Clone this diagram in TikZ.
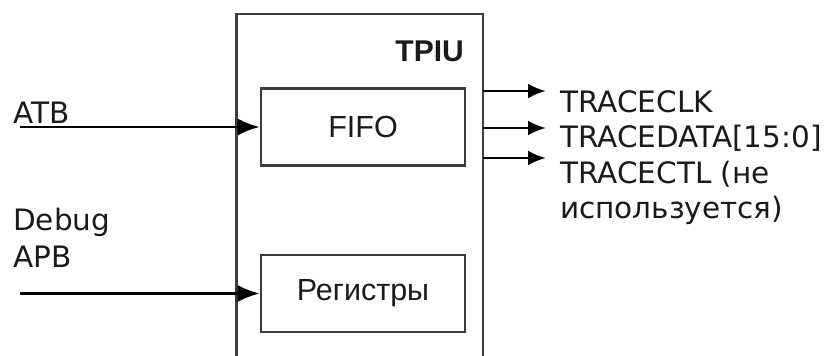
\documentclass[tikz,border=0pt]{standalone}
\usepackage{fontspec}
\setmainfont{DejaVu Sans}
\newfontfamily\boxfont{Liberation Sans}
\usetikzlibrary{arrows.meta}
\definecolor{ink}{HTML}{1A1A1A}
\definecolor{rim}{HTML}{3C3C3C}

\begin{document}
\begin{tikzpicture}[x=1pt,y=-1pt,frame/.style={draw=rim,line width=2.6pt},block/.style={draw=rim,line width=2.6pt,minimum width=204pt,minimum height=77pt,font=\boxfont\fontsize{30.5}{36}\selectfont,text=ink},label/.style={inner sep=0pt,align=left,text=ink,font=\fontsize{29.5}{36.5}\selectfont},inarrow/.style={-{Latex[length=22pt,width=17pt]},line width=2.6pt,draw=black},outarrow/.style={-{Latex[length=18pt,width=15pt]},line width=2.8pt,draw=black}]
 \useasboundingbox (0,0) rectangle (833,356);
 \draw[frame] (236.5,358) |- (483,14) -- (483,358);
 \node[anchor=east,inner sep=0pt,font=\boxfont\bfseries\fontsize{30}{36}\selectfont,text=ink] (tpiu) at (464,51.5) {TPIU};
 \node[block] (fifo) at (363,127) {FIFO};
 \node[block] (regs) at (363,293.5) {Регистры};
 % inputs
 \node[label,anchor=north west] (atblabel) at (13,102) {ATB};
 \node[label,anchor=north west] (apblabel) at (13,208) {Debug\\APB};
 \coordinate (atb) at (20,127);
 \coordinate (apb) at (20,293.5);
 \draw[inarrow] (atb) -- (fifo);
 \draw[inarrow] (apb) -- (regs);
 % outputs
 \coordinate (clk) at (483,91);
 \coordinate (data) at (483,128);
 \coordinate (ctl) at (483,158);
 \coordinate (clkend) at (546,91);
 \coordinate (dataend) at (546,128);
 \coordinate (ctlend) at (546,158);
 \draw[outarrow] (clk) -- (clkend);
 \draw[outarrow] (data) -- (dataend);
 \draw[outarrow] (ctl) -- (ctlend);
 \node[label,anchor=north west,font=\fontsize{29.5}{35.5}\selectfont] (trace) at (560,90) {TRACECLK\\TRACEDATA[15:0]\\TRACECTL (не\\используется)};
\end{tikzpicture}
\end{document}
